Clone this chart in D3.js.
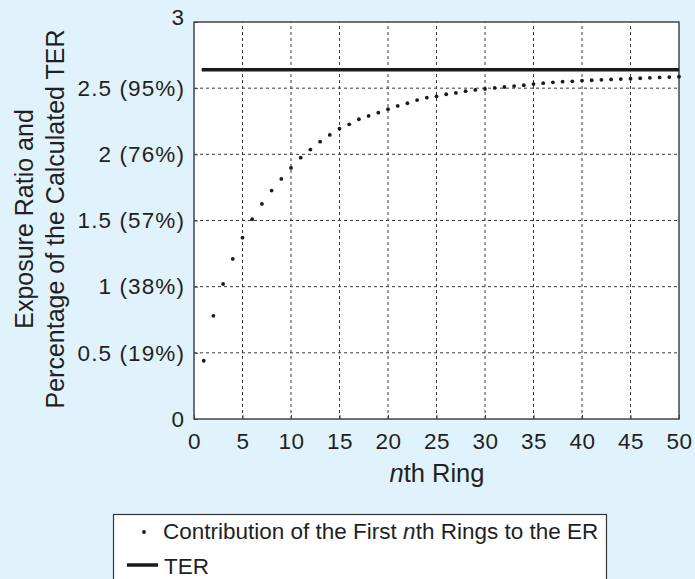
<!DOCTYPE html>
<html>
<head>
<meta charset="utf-8">
<script src="https://cdn.jsdelivr.net/npm/d3@7"></script>
<style>
  body { margin: 0; background: #e0f3fd; }
  text { font-family: "Liberation Sans", Arial, sans-serif; fill: #231f20; }
</style>
</head>
<body>
<script>
// ring index and cumulative ER
const rings = d3.range(1, 51);
const erValues = [0.44, 0.78, 1.02, 1.21, 1.37, 1.51, 1.625, 1.726, 1.814, 1.897,
                  1.975, 2.036, 2.096, 2.147, 2.194, 2.227, 2.265, 2.29, 2.315, 2.341,
                  2.366, 2.386, 2.41, 2.428, 2.438, 2.454, 2.464, 2.477, 2.487, 2.494,
                  2.502, 2.509, 2.516, 2.522, 2.531, 2.538, 2.544, 2.549, 2.552, 2.557,
                  2.56, 2.563, 2.566, 2.569, 2.572, 2.575, 2.578, 2.581, 2.584, 2.587];
const terValue = 2.64;
const terRange = [1, 50];
const yTicks = [0, 0.5, 1, 1.5, 2, 2.5, 3];
const yTickLabels = ['0', '0.5 (19%)', '1 (38%)', '1.5 (57%)', '2 (76%)', '2.5 (95%)', '3'];
const xTicks = [0, 5, 10, 15, 20, 25, 30, 35, 40, 45, 50];

const width = 695, height = 579;
const margin = { top: 22, right: 16, bottom: 160, left: 194 };

const svg = d3.select('body')
              .append('svg')
              .attr('width', width)
              .attr('height', height);

const x = d3.scaleLinear()
            .domain([0, 50])
            .range([margin.left, width - margin.right]);

const y = d3.scaleLinear()
            .domain([0, 3])
            .range([height - margin.bottom, margin.top]);

// plot area
svg.append('rect')
   .attr('x', x(0))
   .attr('y', y(3))
   .attr('width', x(50) - x(0))
   .attr('height', y(0) - y(3))
   .attr('fill', '#ffffff');

// gridlines
svg.append('g')
   .selectAll('line')
   .data(xTicks.slice(1, -1))
   .enter()
   .append('line')
   .attr('x1', d => x(d)).attr('x2', d => x(d))
   .attr('y1', y(0)).attr('y2', y(3))
   .attr('stroke', '#3a3a3a')
   .attr('stroke-width', 1)
   .attr('stroke-dasharray', '3,3');

svg.append('g')
   .selectAll('line')
   .data(yTicks.slice(1, -1))
   .enter()
   .append('line')
   .attr('x1', x(0)).attr('x2', x(50))
   .attr('y1', d => y(d)).attr('y2', d => y(d))
   .attr('stroke', '#3a3a3a')
   .attr('stroke-width', 1)
   .attr('stroke-dasharray', '3,3');

// axes with inward ticks
const yAxis = d3.axisLeft(y)
                .tickValues(yTicks)
                .tickFormat((d, i) => yTickLabels[i])
                .tickSizeInner(-4)
                .tickSizeOuter(0)
                .tickPadding(9);

const xAxis = d3.axisBottom(x)
                .tickValues(xTicks)
                .tickSizeInner(-4)
                .tickSizeOuter(0)
                .tickPadding(14);

const gy = svg.append('g')
              .attr('transform', `translate(${x(0)},0)`)
              .call(yAxis);

const gx = svg.append('g')
              .attr('transform', `translate(0,${y(0)})`)
              .call(xAxis);

[gx, gy].forEach(g => {
    g.select('.domain').remove();
    g.selectAll('line').attr('stroke', '#444');
    g.selectAll('text')
     .style('font-size', '22.5px')
     .style('letter-spacing', '0.6px')
     .style('font-family', '"Liberation Sans", Arial, sans-serif')
     .attr('fill', '#231f20');
});
gy.selectAll('text').style('letter-spacing', '1.1px');
gy.selectAll('text').filter(d => d === 3).attr('dy', '0.1em');
gx.selectAll('text').attr('dy', '0.71em');

// frame
svg.append('rect')
   .attr('x', x(0))
   .attr('y', y(3))
   .attr('width', x(50) - x(0))
   .attr('height', y(0) - y(3))
   .attr('fill', 'none')
   .attr('stroke', '#444')
   .attr('stroke-width', 1.5);

// TER line
svg.append('line')
   .attr('x1', x(terRange[0]) - 2)
   .attr('x2', x(terRange[1]))
   .attr('y1', y(terValue))
   .attr('y2', y(terValue))
   .attr('stroke', '#1a1a1a')
   .attr('stroke-width', 3.5);

// cumulative ER points
svg.append('g')
   .selectAll('circle')
   .data(rings)
   .enter()
   .append('circle')
   .attr('cx', d => x(d))
   .attr('cy', (d, i) => y(erValues[i]))
   .attr('r', 1.9)
   .attr('fill', '#1a1a1a');

// axis titles
const xTitle = svg.append('text')
                  .attr('x', 437)
                  .attr('y', 482)
                  .attr('text-anchor', 'middle')
                  .style('font-size', '25.5px');
xTitle.append('tspan').style('font-style', 'italic').text('n');
xTitle.append('tspan').text('th Ring');

const yMid = 219;
svg.append('text')
   .attr('transform', `translate(33,${yMid}) rotate(-90)`)
   .attr('text-anchor', 'middle')
   .style('font-size', '25px')
   .text('Exposure Ratio and');
svg.append('text')
   .attr('transform', `translate(64,${yMid}) rotate(-90)`)
   .attr('text-anchor', 'middle')
   .style('font-size', '25px')
   .text('Percentage of the Calculated TER');

// legend
const legend = svg.append('g');
legend.append('rect')
      .attr('x', 113.5)
      .attr('y', 514.5)
      .attr('width', 493)
      .attr('height', 90)
      .attr('fill', '#ffffff')
      .attr('stroke', '#333')
      .attr('stroke-width', 1.2);

legend.append('circle')
      .attr('cx', 144)
      .attr('cy', 532)
      .attr('r', 1.9)
      .attr('fill', '#1a1a1a');

const l1 = legend.append('text')
                 .attr('x', 163)
                 .attr('y', 539)
                 .style('font-size', '22.5px');
l1.append('tspan').text('Contribution of the First ');
l1.append('tspan').style('font-style', 'italic').text('n');
l1.append('tspan').text('th Rings to the ER');

legend.append('line')
      .attr('x1', 127).attr('x2', 158)
      .attr('y1', 565).attr('y2', 565)
      .attr('stroke', '#1a1a1a')
      .attr('stroke-width', 3.5);

legend.append('text')
      .attr('x', 164)
      .attr('y', 574)
      .style('font-size', '22.5px')
      .text('TER');
</script>
</body>
</html>
